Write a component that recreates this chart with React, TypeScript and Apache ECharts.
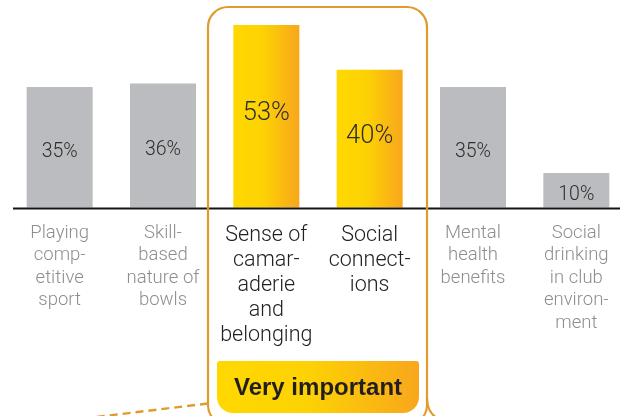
import React, { useEffect, useRef } from "react";
import * as echarts from "echarts";

const categories: string[] = [
  "Playing\ncomp-\netitive\nsport",
  "Skill-\nbased\nnature of\nbowls",
  "Sense of\ncamar-\naderie\nand\nbelonging",
  "Social\nconnect-\nions",
  "Mental\nhealth\nbenefits",
  "Social\ndrinking\nin club\nenviron-\nment",
];
const values: number[] = [35, 36, 53, 40, 35, 10];
const highlighted: boolean[] = [false, false, true, true, false, false];
const groupLabel = "Very important";

const FONT = "Roboto, 'Liberation Sans', Arial, sans-serif";
const BOLD_FONT = "'Liberation Sans', Arial, Helvetica, sans-serif";
const ORANGE = "#E09B2C";

const yellowGradient = () =>
  new echarts.graphic.LinearGradient(0, 0, 1, 0, [
    { offset: 0, color: "#FFD800" },
    { offset: 0.45, color: "#FDD204" },
    { offset: 1, color: "#F8A71C" },
  ]);

export default function App() {
  const ref = useRef<HTMLDivElement>(null);
  useEffect(() => {
    if (!ref.current) return;
    const chart = echarts.init(ref.current, undefined, { renderer: "svg" });
    const data = values.map((v, i) =>
      highlighted[i]
        ? {
            value: v,
            itemStyle: { color: yellowGradient() },
            label: { fontSize: 25.5, offset: [0, -5] },
          }
        : { value: v }
    );
    chart.setOption({
      animation: false,
      grid: { left: 8, right: 0, top: 1, bottom: 208.5, containLabel: false },
      xAxis: {
        type: "category",
        data: categories,
        axisLine: { show: false },
        axisTick: { show: false },
        axisLabel: {
          interval: 0,
          margin: 13,
          formatter: (val: string, idx: number) => {
            const key = highlighted[idx] ? "hi" : "lo";
            return val
              .split("\n")
              .map((l) => `{${key}|${l}}`)
              .join("\n");
          },
          rich: {
            lo: {
              fontFamily: FONT,
              fontWeight: 300,
              fontSize: 18.5,
              color: "#8e8e8e",
              lineHeight: 22.5,
              align: "center",
            },
            hi: {
              fontFamily: FONT,
              fontWeight: 300,
              fontSize: 21.5,
              color: "#222222",
              lineHeight: 25,
              align: "center",
            },
          },
        },
      },
      yAxis: {
        type: "value",
        min: 0,
        max: 60,
        show: false,
        splitLine: { show: false },
      },
      series: [
        {
          type: "bar",
          data,
          barWidth: 66,
          itemStyle: { color: "#BBBCBF" },
          label: {
            show: true,
            position: "inside",
            formatter: "{c}%",
            fontFamily: FONT,
            fontWeight: 300,
            fontSize: 19.5,
            color: "#2e2e2e",
            offset: [0, 3],
          },
        },
      ],
      graphic: [
        {
          type: "line",
          shape: { x1: 13, y1: 208.5, x2: 620, y2: 208.5 },
          style: { stroke: "#141414", lineWidth: 2 },
          z: 10,
        },
        {
          type: "rect",
          shape: { x: 208, y: 7, width: 219, height: 418, r: 20 },
          style: { fill: "none", stroke: ORANGE, lineWidth: 2.2 },
          z: 11,
        },
        {
          type: "bezierCurve",
          shape: { x1: 427, y1: 398, cpx1: 427, cpy1: 412, x2: 437, y2: 418 },
          style: { fill: "none", stroke: ORANGE, lineWidth: 2.2 },
          z: 11,
        },
        {
          type: "line",
          shape: { x1: 208, y1: 403.5, x2: 88, y2: 418 },
          style: { stroke: ORANGE, lineWidth: 2.4, lineDash: [8, 5] },
          z: 11,
        },
        {
          type: "rect",
          shape: { x: 217, y: 361, width: 202, height: 52, r: [3, 3, 16, 16] },
          style: { fill: yellowGradient() },
          z: 9,
        },
        {
          type: "text",
          x: 318,
          y: 386,
          style: {
            text: groupLabel,
            font: `bold 24px ${BOLD_FONT}`,
            fill: "#231f20",
            align: "center",
            verticalAlign: "middle",
            textAlign: "center",
            textVerticalAlign: "middle",
          },
          z: 12,
        },
      ],
    });
    return () => chart.dispose();
  }, []);
  return (
    <div
      ref={ref}
      style={{ position: "fixed", left: 0, top: 0, width: 628, height: 416 }}
    />
  );
}
